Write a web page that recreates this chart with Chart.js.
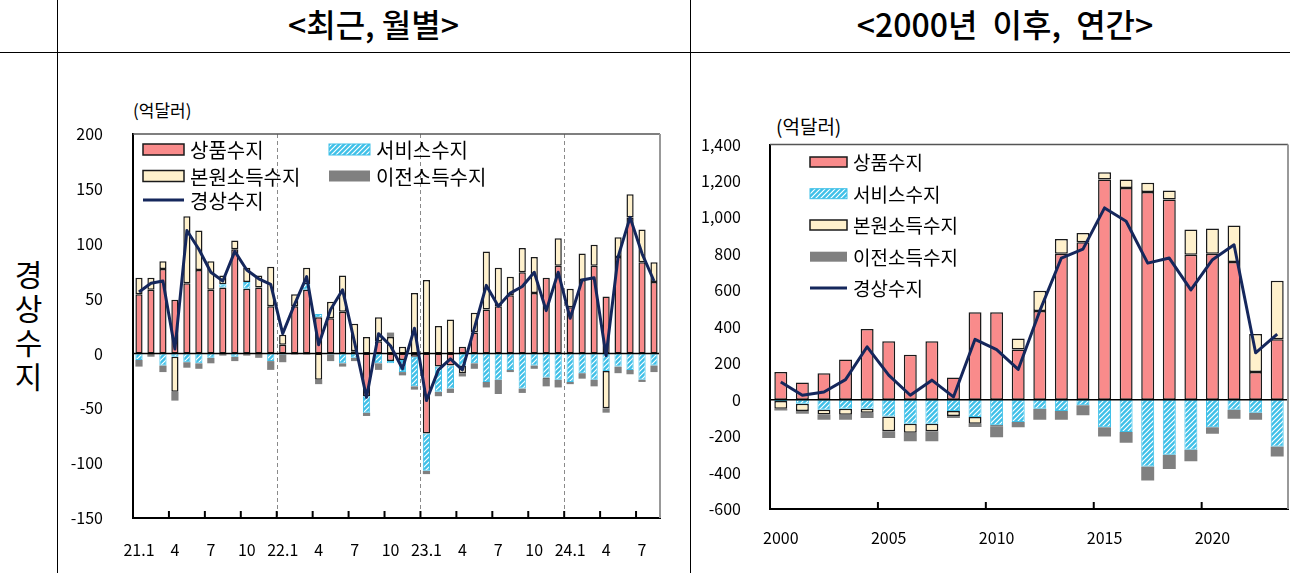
<!DOCTYPE html>
<html>
<head>
<meta charset="utf-8">
<script src="https://cdn.jsdelivr.net/npm/chart.js@4.4.1/dist/chart.umd.min.js"></script>
<style>
  body { margin:0; width:1290px; height:573px; background:#fff; position:relative; overflow:hidden;
         font-family:"Noto Sans CJK KR", "Noto Sans", sans-serif; color:#000; }
  .vl { position:absolute; top:0; width:1px; height:573px; background:#000; }
  .hl { position:absolute; left:0; top:52px; width:1290px; height:1px; background:#000; }
  .hd { position:absolute; top:0; height:52px; line-height:46px; text-align:center; font-size:32px; font-weight:500; }
  .unit { position:absolute; white-space:nowrap; }
  canvas { position:absolute; }
</style>
</head>
<body>
<div class="vl" style="left:57px"></div>
<div class="vl" style="left:690px"></div>
<div class="hl"></div>
<div class="hd" style="left:57px;width:633px">&lt;최근, 월별&gt;</div>
<div class="hd" style="left:720px;width:570px;word-spacing:8px">&lt;2000년 이후, 연간&gt;</div>
<div style="position:absolute;left:0;width:57px;top:256px;font-size:30px;line-height:34px;text-align:center">경<br>상<br>수<br>지</div>
<div class="unit" style="left:133px;top:97px;font-size:17px">(억달러)</div>
<div class="unit" style="left:776px;top:112px;font-size:19px">(억달러)</div>

<canvas id="monthly" width="632" height="520" style="left:58px;top:53px"></canvas>
<canvas id="annual" width="599" height="520" style="left:691px;top:53px"></canvas>

<script>
// ---- monthly data (21.1 ~ 24.8), 억달러 ----
var months = ['21.1','2','3','4','5','6','7','8','9','10','11','12',
              '22.1','2','3','4','5','6','7','8','9','10','11','12',
              '23.1','2','3','4','5','6','7','8','9','10','11','12',
              '24.1','2','3','4','5','6','7','8'];
var goodsM     = [54,58,77,49,64,76,58,60,95,59,60,43, 8,43,58,33,32,38,2,-39,11,-7,-6,-3, -73,-12,-11,6,19,40,43,53,74,55,69,80, 42,67,80,52,88,124,83,65];
var servicesM  = [-6,0,-11,-3,-8,-9,-4,3,-3,6,0,-7, -1,0,5,3,-1,-9,-4,-15,-9,-2,-11,-27, -34,-23,-21,-11,-9,-26,-24,-15,-32,-11,-22,-24, -26,-18,-24,-16,-12,-15,-24,-11];
var primaryM   = [15,11,7,-32,61,36,26,8,8,13,11,36, 9,11,15,-24,15,33,25,15,22,15,6,55, 67,25,31,-7,18,53,35,17,22,33,-1,25, 17,24,19,-34,18,21,30,18];
var transferM  = [-6,-3,-6,-8,-5,-5,-5,-2,-4,-2,-4,-8, -7,-1,-1,-4,-6,-3,-3,-3,-6,4,-3,-3, -3,-4,-4,-3,-5,-5,-13,-2,-4,-3,-7,-7, -2,-5,-6,-4,-6,-4,-2,-6];
var currentM   = [56,64,66,4,112,95,74,66,93,76,68,63, 18,45,70,8,40,58,10,-40,18,7,-14,23, -43,-15,-5,-15,23,62,43,55,61,74,39,74, 32,67,69,-2,88,124,91,66];

// ---- annual data (2000 ~ 2023) ----
var years      = ['2000','2001','2002','2003','2004','2005','2006','2007','2008','2009','2010','2011',
                  '2012','2013','2014','2015','2016','2017','2018','2019','2020','2021','2022','2023'];
var goodsY     = [152,94,145,220,387,321,246,321,121,479,479,275,487,801,863,1208,1162,1140,1098,795,801,755,152,332];
var servicesY  = [-7,-22,-55,-50,-50,-92,-132,-132,-62,-95,-141,-123,-50,-62,-31,-151,-178,-367,-303,-275,-151,-55,-72,-257];
var primaryY   = [-43,-40,-26,-33,-22,-82,-50,-41,-28,-37,-5,61,110,81,51,40,46,50,50,138,138,200,208,321];
var transferY  = [-9,-15,-29,-27,-29,-37,-46,-55,-11,-18,-60,-28,-60,-48,-55,-51,-59,-77,-77,-63,-36,-50,-38,-55];
var currentY   = [97,24,42,110,290,135,24,107,15,331,275,166,487,777,826,1052,979,749,777,602,768,850,257,360];

var RED = '#F98B8B', BEIGE = '#FFF1CC', GRAY = '#808080', BLUE = '#3FC0E8', NAVY = '#15275C';
var FONT = '"Noto Sans CJK KR", "Noto Sans", sans-serif';

// blue hatch for services
function hatch() {
  var c = document.createElement('canvas');
  c.width = 5; c.height = 5;
  var g = c.getContext('2d');
  g.fillStyle = BLUE; g.fillRect(0, 0, 5, 5);
  g.strokeStyle = '#fff'; g.lineWidth = 1.2;
  g.beginPath();
  g.moveTo(0, 5); g.lineTo(5, 0);
  g.moveTo(-2.5, 2.5); g.lineTo(2.5, -2.5);
  g.moveTo(2.5, 7.5); g.lineTo(7.5, 2.5);
  g.stroke();
  return g.createPattern(c, 'repeat');
}
var HATCH = hatch();

function makeDatasets(goods, services, primary, transfer, current) {
  return [
    { type:'line', label:'경상수지', data:current, borderColor:NAVY, borderWidth:3,
      pointRadius:0, tension:0, borderJoinStyle:'round', stack:'line', order:0 },
    { label:'상품수지', data:goods, backgroundColor:RED, borderColor:'#1a1a1a', borderWidth:1.5, stack:'cab', order:1 },
    { label:'서비스수지', data:services, backgroundColor:HATCH, borderColor:BLUE, borderWidth:1, stack:'cab', order:1 },
    { label:'본원소득수지', data:primary, backgroundColor:BEIGE, borderColor:'#1a1a1a', borderWidth:1.5, stack:'cab', order:1 },
    { label:'이전소득수지', data:transfer, backgroundColor:GRAY, borderWidth:0, stack:'cab', order:1 }
  ];
}

// boundary pixel before category i
function boundary(x, i) {
  var step = x.getPixelForValue(1) - x.getPixelForValue(0);
  return x.getPixelForValue(i) - step / 2;
}

// frame, dashed year separators, zero line, inner tick marks, legend
var decor = {
  id: 'decor',
  beforeDatasetsDraw: function (chart, args, o) {
    var ctx = chart.ctx, a = chart.chartArea, x = chart.scales.x;
    ctx.save();
    ctx.strokeStyle = '#8a8a8a'; ctx.lineWidth = 1; ctx.setLineDash([4, 3]);
    (o.dashAt || []).forEach(function (i) {
      var px = Math.round(boundary(x, i)) + 0.5;
      ctx.beginPath(); ctx.moveTo(px, a.top); ctx.lineTo(px, a.bottom); ctx.stroke();
    });
    ctx.restore();
  },
  // zero line goes over the bars but under the current-account line
  beforeDatasetDraw: function (chart, args) {
    if (args.index !== 0) return;
    var ctx = chart.ctx, a = chart.chartArea;
    var py = chart.scales.y.getPixelForValue(0);
    ctx.save();
    ctx.strokeStyle = '#000'; ctx.lineWidth = 1.5;
    ctx.beginPath(); ctx.moveTo(a.left, py); ctx.lineTo(a.right, py); ctx.stroke();
    ctx.restore();
  },
  afterDatasetsDraw: function (chart, args, o) {
    var ctx = chart.ctx, a = chart.chartArea, x = chart.scales.x;
    ctx.save();
    // top and right frame
    ctx.strokeStyle = '#555'; ctx.lineWidth = 1.5;
    ctx.beginPath(); ctx.moveTo(a.left, a.top); ctx.lineTo(a.right, a.top); ctx.stroke();
    ctx.strokeStyle = '#999'; ctx.lineWidth = 2;
    ctx.beginPath(); ctx.moveTo(a.right, a.top); ctx.lineTo(a.right, a.bottom); ctx.stroke();
    // inner tick marks on the x axis
    ctx.strokeStyle = '#000'; ctx.lineWidth = 2;
    o.tickAt.forEach(function (i) {
      var px = boundary(x, i);
      ctx.beginPath(); ctx.moveTo(px, a.bottom); ctx.lineTo(px, a.bottom - 7); ctx.stroke();
    });
    // legend
    var L = o.legend;
    ctx.font = L.fontSize + 'px ' + FONT;
    ctx.textBaseline = 'middle';
    L.items.forEach(function (it) {
      var ds = chart.data.datasets.filter(function (d) { return d.label === it.label; })[0];
      var bx = a.left + it.x, cy = a.top + it.y;
      if (ds.type === 'line') {
        ctx.strokeStyle = ds.borderColor; ctx.lineWidth = 3;
        ctx.beginPath(); ctx.moveTo(bx, cy); ctx.lineTo(bx + L.boxW, cy); ctx.stroke();
      } else {
        ctx.fillStyle = ds.backgroundColor;
        ctx.fillRect(bx, cy - L.boxH / 2, L.boxW, L.boxH);
        if (ds.borderWidth) {
          ctx.strokeStyle = ds.borderColor; ctx.lineWidth = ds.borderWidth;
          ctx.strokeRect(bx, cy - L.boxH / 2, L.boxW, L.boxH);
        }
      }
      ctx.fillStyle = '#000';
      ctx.fillText(ds.label, bx + L.boxW + 6, cy + 1);
    });
    ctx.restore();
  }
};

function baseOptions(cfg) {
  return {
    responsive: false,
    animation: false,
    layout: { padding: cfg.padding },
    datasets: { bar: { barPercentage: 0.6, categoryPercentage: 1.0, borderSkipped: false } },
    plugins: {
      legend: { display: false },
      tooltip: { enabled: false },
      decor: cfg.decor
    },
    scales: {
      x: {
        stacked: true,
        grid: { display: false },
        border: { color: '#000', width: 2 },
        afterFit: function (s) { s.height = 40; },
        ticks: {
          autoSkip: false, maxRotation: 0, padding: cfg.xPad, color: '#000',
          font: { family: FONT, size: 16 },
          callback: cfg.xLabel
        }
      },
      y: {
        stacked: true,
        min: cfg.min, max: cfg.max,
        afterFit: function (s) { s.width = cfg.yWidth; },
        grid: { display: false },
        border: { color: '#000', width: 2 },
        ticks: {
          stepSize: cfg.step, padding: cfg.yPad, color: '#000',
          font: { family: FONT, size: 16 },
          callback: function (v) { return v.toLocaleString('en-US'); }
        }
      }
    }
  };
}

// monthly chart
var monthTicks = [], monthDash = [12, 24, 36];
for (var i = 3; i < months.length; i += 3) monthTicks.push(i);

new Chart(document.getElementById('monthly').getContext('2d'), {
  type: 'bar',
  data: { labels: months, datasets: makeDatasets(goodsM, servicesM, primaryM, transferM, currentM) },
  plugins: [decor],
  options: baseOptions({
    padding: { top: 81, right: 30, left: 0, bottom: 15 },
    min: -150, max: 200, step: 50, yWidth: 75, yPad: 22, xPad: 14,
    xLabel: function (v, i) { return i % 3 === 0 ? months[i] : ''; },
    decor: {
      dashAt: monthDash, tickAt: monthTicks,
      legend: { fontSize: 20, boxW: 41, boxH: 11, items: [
        { label:'상품수지', x:10, y:15.5 },
        { label:'서비스수지', x:196, y:15.5 },
        { label:'본원소득수지', x:10, y:42 },
        { label:'이전소득수지', x:196, y:42 },
        { label:'경상수지', x:10, y:66 }
      ] }
    }
  })
});

// annual chart
var yearTicks = [];
years.forEach(function (y, i) { if (i > 0 && +y % 5 === 0) yearTicks.push(i); });

new Chart(document.getElementById('annual').getContext('2d'), {
  type: 'bar',
  data: { labels: years, datasets: makeDatasets(goodsY, servicesY, primaryY, transferY, currentY) },
  plugins: [decor],
  options: baseOptions({
    padding: { top: 91.5, right: 2, left: 0, bottom: 24 },
    min: -600, max: 1400, step: 200, yWidth: 79, yPad: 21, xPad: 11,
    xLabel: function (v, i) { return +years[i] % 5 === 0 ? years[i] : ''; },
    decor: {
      dashAt: [], tickAt: yearTicks,
      legend: { fontSize: 19, boxW: 37, boxH: 10, items: [
        { label:'상품수지', x:40, y:17.5 },
        { label:'서비스수지', x:40, y:49.2 },
        { label:'본원소득수지', x:40, y:80.5 },
        { label:'이전소득수지', x:40, y:112.2 },
        { label:'경상수지', x:40, y:143.5 }
      ] }
    }
  })
});
</script>
</body>
</html>
